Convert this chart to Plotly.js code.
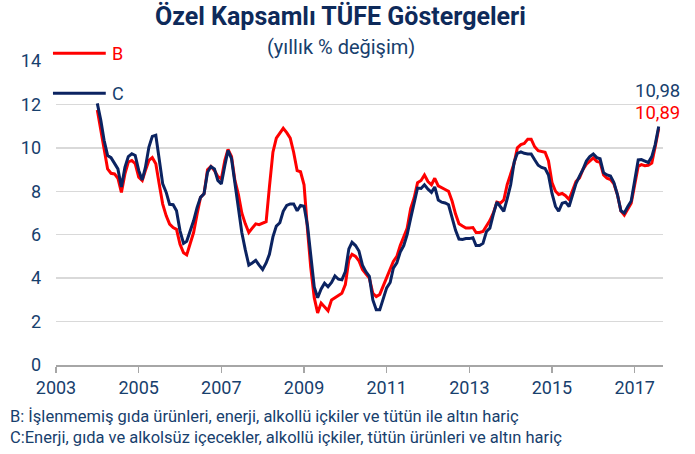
<!DOCTYPE html>
<html>
<head>
<meta charset="utf-8">
<script src="https://cdn.plot.ly/plotly-3.0.1.min.js"></script>
<style>
html,body{margin:0;padding:0;background:#fff;}
#chart{width:695px;height:454px;}
</style>
</head>
<body>
<div id="chart"></div>
<script>
// Monthly data, Jan 2004 - Aug 2017 (yearly % change)
const startYear = 2004;
const startMonth = 1;

const seriesNames = ["B", "C"];

const valuesB = [
  // 2004
  11.74, 10.8, 9.8, 9.03, 8.83, 8.8, 8.6, 7.95, 8.8, 9.35, 9.42, 9.27,
  // 2005
  8.65, 8.5, 8.96, 9.42, 9.55, 9.27, 8.34, 7.41, 6.87, 6.49, 6.33, 6.25,
  // 2006
  5.56, 5.17, 5.07, 5.56, 6.1, 6.95, 7.72, 7.88, 8.99, 9.14, 8.96, 8.68,
  // 2007
  8.57, 9.42, 9.93, 9.6, 8.5, 7.85, 7.0, 6.5, 6.1, 6.3, 6.5, 6.46,
  // 2008
  6.54, 6.6, 8.2, 9.8, 10.45, 10.7, 10.9, 10.7, 10.45, 9.8, 8.95, 8.9,
  // 2009
  8.3, 6.2, 4.5, 3.1, 2.4, 2.85, 2.7, 2.5, 3.0, 3.1, 3.2, 3.3,
  // 2010
  3.7, 4.85, 5.1, 5.0, 4.8, 4.4, 4.2, 4.0, 3.3, 3.15, 3.25, 3.62,
  // 2011
  4.0, 4.4, 4.77, 5.0, 5.5, 5.9, 6.3, 7.2, 7.7, 8.4, 8.5, 8.75,
  // 2012
  8.45, 8.3, 8.6, 8.25, 8.15, 8.08, 8.0, 7.55, 6.95, 6.5, 6.4, 6.31,
  // 2013
  6.31, 6.33, 6.1, 6.1, 6.15, 6.38, 6.65, 7.0, 7.5, 7.45, 7.6, 8.3,
  // 2014
  8.8, 9.3, 10.0, 10.15, 10.2, 10.4, 10.4, 10.05, 9.87, 9.82, 9.8, 9.4,
  // 2015
  8.4, 8.0, 7.85, 7.9, 7.8, 7.62, 8.0, 8.45, 8.62, 9.0, 9.25, 9.4,
  // 2016
  9.54, 9.38, 9.33, 8.75, 8.6, 8.54, 8.35, 7.85, 7.1, 6.9, 7.15, 7.45,
  // 2017
  8.3, 9.15, 9.23, 9.18, 9.2, 9.3, 10.05, 10.89
];

const valuesC = [
  // 2004
  12.05, 11.27, 10.35, 9.65, 9.55, 9.3, 9.03, 8.2, 9.1, 9.6, 9.73, 9.65,
  // 2005
  8.96, 8.52, 9.1, 10.04, 10.53, 10.58, 9.4, 8.34, 7.95, 7.4, 7.38, 7.1,
  // 2006
  6.18, 5.6, 5.7, 6.18, 6.64, 7.26, 7.72, 7.88, 8.88, 9.14, 9.03, 8.5,
  // 2007
  8.34, 9.19, 9.88, 9.5, 8.3, 7.2, 6.1, 5.3, 4.6, 4.7, 4.82, 4.6,
  // 2008
  4.4, 4.7, 5.1, 5.9, 6.4, 6.55, 7.08, 7.35, 7.42, 7.42, 7.1, 7.35,
  // 2009
  7.31, 6.4, 5.2, 3.6, 3.1, 3.5, 3.77, 3.6, 3.8, 4.1, 3.95, 3.92,
  // 2010
  4.3, 5.35, 5.65, 5.5, 5.25, 4.6, 4.3, 4.08, 3.0, 2.54, 2.54, 3.08,
  // 2011
  3.55, 3.8, 4.46, 4.7, 5.2, 5.5, 6.0, 6.75, 7.55, 8.15, 8.13, 8.3,
  // 2012
  8.1, 7.95, 8.2, 7.6, 7.5, 7.46, 7.38, 6.8, 6.2, 5.8, 5.78, 5.82,
  // 2013
  5.82, 5.86, 5.5, 5.5, 5.6, 6.15, 6.3, 6.95, 7.5, 7.3, 7.08, 7.65,
  // 2014
  8.3, 9.35, 9.75, 9.82, 9.75, 9.72, 9.72, 9.45, 9.2, 9.1, 9.05, 8.75,
  // 2015
  7.9, 7.3, 7.08, 7.45, 7.5, 7.3, 7.8, 8.35, 8.7, 9.0, 9.4, 9.6,
  // 2016
  9.72, 9.55, 9.5, 8.85, 8.75, 8.7, 8.4, 7.85, 7.1, 7.0, 7.3, 7.55,
  // 2017
  8.5, 9.45, 9.46, 9.4, 9.32, 9.6, 10.15, 10.98
];

const xTickValues = ["2003-01-01","2005-01-01","2007-01-01","2009-01-01","2011-01-01","2013-01-01","2015-01-01","2017-01-01"];
const xTickLabels = ["2003","2005","2007","2009","2011","2013","2015","2017"];
const yTickValues = [0, 2, 4, 6, 8, 10, 12, 14];

const titleText = "Özel Kapsamlı TÜFE Göstergeleri";
const subtitleText = "(yıllık % değişim)";
const noteB = "B: İşlenmemiş gıda ürünleri, enerji, alkollü içkiler ve tütün ile altın hariç";
const noteC = "C:Enerji, gıda ve alkolsüz içecekler, alkollü içkiler, tütün ürünleri ve altın hariç";

function monthDates(n) {
  const out = [];
  for (let i = 0; i < n; i++) {
    const y = startYear + Math.floor((startMonth - 1 + i) / 12);
    const m = ((startMonth - 1 + i) % 12) + 1;
    out.push(y + "-" + String(m).padStart(2, "0") + "-01");
  }
  return out;
}

const RED = "#ff0000";
const NAVY = "#0b2361";
const TXT = "#17406d";
const FONT = "Roboto, 'Open Sans', sans-serif";

const dates = monthDates(valuesB.length);

const traces = [
  {x: dates, y: valuesB, type: "scatter", mode: "lines", name: seriesNames[0],
   line: {color: RED, width: 3}, showlegend: false, hoverinfo: "skip"},
  {x: dates, y: valuesC, type: "scatter", mode: "lines", name: seriesNames[1],
   line: {color: NAVY, width: 3}, showlegend: false, hoverinfo: "skip"}
];

const fmt = v => v.toFixed(2).replace(".", ",");

const layout = {
  width: 695, height: 454,
  margin: {l: 56, r: 32, t: 61, b: 89},
  paper_bgcolor: "#fff", plot_bgcolor: "#fff",
  font: {family: FONT, color: TXT},
  showlegend: false,
  xaxis: {
    type: "date",
    range: ["2003-01-01", "2017-09-08"],
    tickmode: "array", tickvals: xTickValues, ticktext: xTickLabels,
    ticks: "outside", ticklen: 6, tickwidth: 1.5, tickcolor: "#a6a6a6",
    showline: true, linecolor: "#a6a6a6", linewidth: 1.5,
    showgrid: false, zeroline: false,
    tickfont: {size: 18, color: TXT, family: FONT}
  },
  yaxis: {
    range: [0, 14],
    tickmode: "array", tickvals: yTickValues,
    showgrid: true, gridcolor: "#d9d9d9", gridwidth: 1.5,
    zeroline: false, showline: false, ticks: "",
    ticklabelstandoff: 14,
    tickfont: {size: 18, color: TXT, family: FONT}
  },
  shapes: [
    {type: "line", xref: "paper", yref: "paper", x0: -0.005, x1: 0.082, y0: 1.0253, y1: 1.0253,
     line: {color: RED, width: 3}},
    {type: "line", xref: "paper", yref: "paper", x0: -0.005, x1: 0.082, y0: 0.8938, y1: 0.8938,
     line: {color: NAVY, width: 3}}
  ],
  annotations: [
    {text: "<b>" + titleText + "</b>", xref: "paper", yref: "paper", x: 0.4695, y: 1.0,
     xanchor: "center", yanchor: "middle", yshift: 45, showarrow: false,
     font: {size: 25, color: "#0e2a5a", family: FONT}},
    {text: subtitleText, xref: "paper", yref: "paper", x: 0.4695, y: 1.0,
     xanchor: "center", yanchor: "middle", yshift: 14, showarrow: false,
     font: {size: 20, color: TXT, family: FONT}},
    {text: seriesNames[0], xref: "paper", yref: "paper", x: 0.089, y: 1.0253,
     xanchor: "left", yanchor: "middle", showarrow: false,
     font: {size: 18, color: RED, family: FONT}},
    {text: seriesNames[1], xref: "paper", yref: "paper", x: 0.089, y: 0.8938,
     xanchor: "left", yanchor: "middle", showarrow: false,
     font: {size: 18, color: TXT, family: FONT}},
    {text: fmt(valuesC[valuesC.length - 1]), xref: "paper", yref: "y", x: 1.031, y: 12.6,
     xanchor: "right", yanchor: "middle", showarrow: false, height: 18,
     font: {size: 18.5, color: TXT, family: FONT}},
    {text: fmt(valuesB[valuesB.length - 1]), xref: "paper", yref: "y", x: 1.031, y: 11.62,
     xanchor: "right", yanchor: "middle", showarrow: false, height: 18,
     font: {size: 18.5, color: RED, family: FONT}},
    {text: noteB, xref: "paper", yref: "paper", x: -0.079, y: 0, xanchor: "left", yanchor: "middle",
     yshift: -51, showarrow: false, font: {size: 16.5, color: TXT, family: FONT}},
    {text: noteC, xref: "paper", yref: "paper", x: -0.079, y: 0, xanchor: "left", yanchor: "middle",
     yshift: -72, showarrow: false, font: {size: 16.5, color: TXT, family: FONT}}
  ]
};

Plotly.newPlot("chart", traces, layout, {staticPlot: true, displayModeBar: false});
</script>
</body>
</html>
